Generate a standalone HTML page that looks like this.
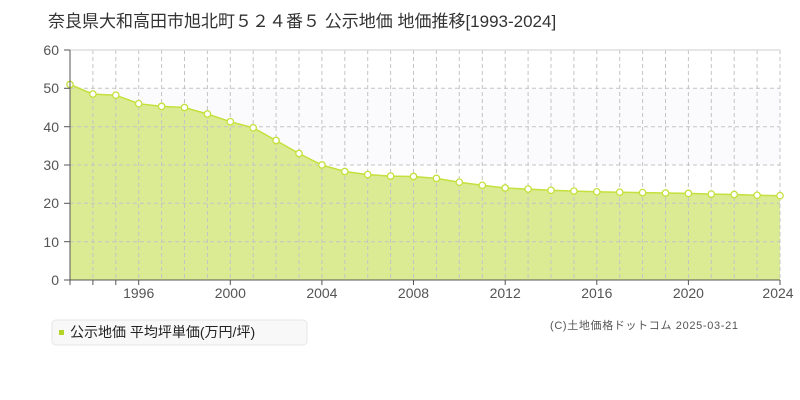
<!DOCTYPE html>
<html><head><meta charset="utf-8"><style>
body{margin:0;background:#fff;width:800px;height:400px;overflow:hidden;font-family:"Liberation Sans","Noto Sans CJK JP",sans-serif}
</style></head><body>
<svg width="800" height="400" xmlns="http://www.w3.org/2000/svg" style="position:absolute;left:0;top:0">
<text x="48" y="27" font-size="17" fill="#333" font-family="Liberation Sans,Noto Sans CJK JP,sans-serif">奈良県大和高田市旭北町５２４番５ 公示地価 地価推移[1993-2024]</text>
<rect x="70" y="88.3" width="710" height="76.7" fill="#fbfafc"/>
<polygon fill="#dbeb94" points="70,280 70,84.5 92.9,94.1 115.8,95.2 138.7,103.7 161.6,106.4 184.5,107.5 207.4,114 230.3,121.7 253.2,127.8 276.1,140.5 299,153.5 321.9,165 344.8,171.5 367.7,174.6 390.6,176.1 413.5,176.5 436.4,178.4 459.3,182.2 482.3,185.3 505.2,188 528.1,189.1 551,190.3 573.9,191.1 596.8,191.8 619.7,192.2 642.6,192.6 665.5,193 688.4,193.4 711.3,194.1 734.2,194.5 757.1,195.3 780,195.7 780,280"/>
<g stroke="#c4c4c4" stroke-dasharray="4,3" stroke-width="1">
<line x1="70" y1="88.3" x2="780" y2="88.3"/><line x1="70" y1="126.7" x2="780" y2="126.7"/><line x1="70" y1="165" x2="780" y2="165"/><line x1="70" y1="203.3" x2="780" y2="203.3"/><line x1="70" y1="241.7" x2="780" y2="241.7"/>
<line x1="92.9" y1="50" x2="92.9" y2="280"/><line x1="115.8" y1="50" x2="115.8" y2="280"/><line x1="138.7" y1="50" x2="138.7" y2="280"/><line x1="161.6" y1="50" x2="161.6" y2="280"/><line x1="184.5" y1="50" x2="184.5" y2="280"/><line x1="207.4" y1="50" x2="207.4" y2="280"/><line x1="230.3" y1="50" x2="230.3" y2="280"/><line x1="253.2" y1="50" x2="253.2" y2="280"/><line x1="276.1" y1="50" x2="276.1" y2="280"/><line x1="299" y1="50" x2="299" y2="280"/><line x1="321.9" y1="50" x2="321.9" y2="280"/><line x1="344.8" y1="50" x2="344.8" y2="280"/><line x1="367.7" y1="50" x2="367.7" y2="280"/><line x1="390.6" y1="50" x2="390.6" y2="280"/><line x1="413.5" y1="50" x2="413.5" y2="280"/><line x1="436.4" y1="50" x2="436.4" y2="280"/><line x1="459.3" y1="50" x2="459.3" y2="280"/><line x1="482.3" y1="50" x2="482.3" y2="280"/><line x1="505.2" y1="50" x2="505.2" y2="280"/><line x1="528.1" y1="50" x2="528.1" y2="280"/><line x1="551" y1="50" x2="551" y2="280"/><line x1="573.9" y1="50" x2="573.9" y2="280"/><line x1="596.8" y1="50" x2="596.8" y2="280"/><line x1="619.7" y1="50" x2="619.7" y2="280"/><line x1="642.6" y1="50" x2="642.6" y2="280"/><line x1="665.5" y1="50" x2="665.5" y2="280"/><line x1="688.4" y1="50" x2="688.4" y2="280"/><line x1="711.3" y1="50" x2="711.3" y2="280"/><line x1="734.2" y1="50" x2="734.2" y2="280"/><line x1="757.1" y1="50" x2="757.1" y2="280"/><line x1="780" y1="50" x2="780" y2="280"/>
</g>
<line x1="70" y1="50" x2="780" y2="50" stroke="#ddd" stroke-width="1.5"/>
<polyline fill="none" stroke="#c4e03c" stroke-width="1.5" points="70,84.5 92.9,94.1 115.8,95.2 138.7,103.7 161.6,106.4 184.5,107.5 207.4,114 230.3,121.7 253.2,127.8 276.1,140.5 299,153.5 321.9,165 344.8,171.5 367.7,174.6 390.6,176.1 413.5,176.5 436.4,178.4 459.3,182.2 482.3,185.3 505.2,188 528.1,189.1 551,190.3 573.9,191.1 596.8,191.8 619.7,192.2 642.6,192.6 665.5,193 688.4,193.4 711.3,194.1 734.2,194.5 757.1,195.3 780,195.7"/>
<g fill="#fff" stroke="#c4e03c" stroke-width="1.3">
<circle cx="70" cy="84.5" r="3.2"/><circle cx="92.9" cy="94.1" r="3.2"/><circle cx="115.8" cy="95.2" r="3.2"/><circle cx="138.7" cy="103.7" r="3.2"/><circle cx="161.6" cy="106.4" r="3.2"/><circle cx="184.5" cy="107.5" r="3.2"/><circle cx="207.4" cy="114" r="3.2"/><circle cx="230.3" cy="121.7" r="3.2"/><circle cx="253.2" cy="127.8" r="3.2"/><circle cx="276.1" cy="140.5" r="3.2"/><circle cx="299" cy="153.5" r="3.2"/><circle cx="321.9" cy="165" r="3.2"/><circle cx="344.8" cy="171.5" r="3.2"/><circle cx="367.7" cy="174.6" r="3.2"/><circle cx="390.6" cy="176.1" r="3.2"/><circle cx="413.5" cy="176.5" r="3.2"/><circle cx="436.4" cy="178.4" r="3.2"/><circle cx="459.3" cy="182.2" r="3.2"/><circle cx="482.3" cy="185.3" r="3.2"/><circle cx="505.2" cy="188" r="3.2"/><circle cx="528.1" cy="189.1" r="3.2"/><circle cx="551" cy="190.3" r="3.2"/><circle cx="573.9" cy="191.1" r="3.2"/><circle cx="596.8" cy="191.8" r="3.2"/><circle cx="619.7" cy="192.2" r="3.2"/><circle cx="642.6" cy="192.6" r="3.2"/><circle cx="665.5" cy="193" r="3.2"/><circle cx="688.4" cy="193.4" r="3.2"/><circle cx="711.3" cy="194.1" r="3.2"/><circle cx="734.2" cy="194.5" r="3.2"/><circle cx="757.1" cy="195.3" r="3.2"/><circle cx="780" cy="195.7" r="3.2"/>
</g>
<line x1="70" y1="50" x2="70" y2="280" stroke="#555" stroke-width="1"/>
<line x1="70" y1="280" x2="780" y2="280" stroke="#555" stroke-width="1"/>
<g stroke="#555"><line x1="64" y1="50" x2="70" y2="50"/><line x1="64" y1="88.3" x2="70" y2="88.3"/><line x1="64" y1="126.7" x2="70" y2="126.7"/><line x1="64" y1="165" x2="70" y2="165"/><line x1="64" y1="203.3" x2="70" y2="203.3"/><line x1="64" y1="241.7" x2="70" y2="241.7"/><line x1="64" y1="280" x2="70" y2="280"/>
<line x1="70" y1="280" x2="70" y2="285"/><line x1="92.9" y1="280" x2="92.9" y2="285"/><line x1="115.8" y1="280" x2="115.8" y2="285"/><line x1="138.7" y1="280" x2="138.7" y2="285"/><line x1="230.3" y1="280" x2="230.3" y2="285"/><line x1="321.9" y1="280" x2="321.9" y2="285"/><line x1="413.5" y1="280" x2="413.5" y2="285"/><line x1="505.2" y1="280" x2="505.2" y2="285"/><line x1="596.8" y1="280" x2="596.8" y2="285"/><line x1="688.4" y1="280" x2="688.4" y2="285"/><line x1="780" y1="280" x2="780" y2="285"/></g>
<g font-size="14" fill="#555" text-anchor="end"><text x="59" y="55">60</text><text x="59" y="93">50</text><text x="59" y="132">40</text><text x="59" y="170">30</text><text x="59" y="208">20</text><text x="59" y="247">10</text><text x="59" y="285">0</text></g>
<g font-size="14" fill="#555" text-anchor="middle"><text x="138.7" y="298">1996</text><text x="230.3" y="298">2000</text><text x="321.9" y="298">2004</text><text x="413.5" y="298">2008</text><text x="505.2" y="298">2012</text><text x="596.8" y="298">2016</text><text x="688.4" y="298">2020</text><text x="778" y="298">2024</text></g>
<rect x="52" y="320" width="255" height="25" rx="4" fill="#f8f8f8" stroke="#e6e6e6"/>
<rect x="59" y="330" width="5" height="5" fill="#b5d42a"/>
<text x="70" y="337" font-size="14" fill="#222">公示地価 平均坪単価(万円/坪)</text>
<text x="550" y="329" font-size="11" fill="#555" textLength="188" lengthAdjust="spacing">(C)土地価格ドットコム 2025-03-21</text>
</svg>
</body></html>
